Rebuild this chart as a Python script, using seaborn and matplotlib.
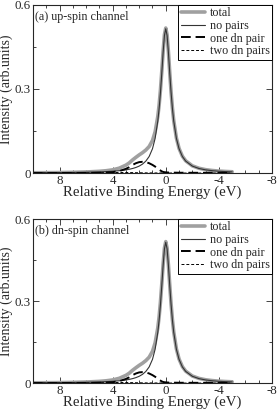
import numpy as np
import pandas as pd
import matplotlib
matplotlib.use('Agg')
import matplotlib.pyplot as plt
import seaborn as sns

# binding energy grid (eV)
energy = [10, 9, 8, 7, 6, 5, 4.5, 4, 3.5, 3, 2.75, 2.5, 2.25, 2, 1.75, 1.5, 1.25, 1,
          0.8, 0.6, 0.5, 0.4, 0.3, 0.2, 0.1, 0, -0.1, -0.2, -0.3, -0.4, -0.5, -0.6,
          -0.8, -1, -1.25, -1.5, -2, -2.5, -3, -3.5, -4, -4.5, -5]

no_pairs = [0.001, 0.0013, 0.0016, 0.0021, 0.0029, 0.0041, 0.0051, 0.0064, 0.0084, 0.0113,
            0.0134, 0.0162, 0.0198, 0.0248, 0.0319, 0.0426, 0.0591, 0.0867,
            0.1238, 0.1854, 0.2305, 0.2877, 0.3565, 0.4300, 0.4908, 0.515, 0.4908, 0.4300,
            0.3565, 0.2877, 0.2305, 0.1854, 0.1238, 0.0867, 0.0591, 0.0426, 0.0248, 0.0162,
            0.0113, 0.0084, 0.0064, 0.0051, 0.0041]

one_dn_pair = [0.0, 0.0, 0.0, 0.0, 0.0002, 0.0008, 0.0015, 0.003, 0.007, 0.015,
               0.021, 0.029, 0.035, 0.039, 0.040, 0.039, 0.035, 0.029,
               0.023, 0.016, 0.012, 0.009, 0.006, 0.004, 0.003, 0.0025, 0.002, 0.0018,
               0.0016, 0.0015, 0.0014, 0.0013, 0.0012, 0.0011, 0.001, 0.001, 0.0009, 0.0008,
               0.0007, 0.0006, 0.0005, 0.0005, 0.0004]

two_dn_pairs = [0.0, 0.0, 0.0001, 0.0003, 0.0006, 0.0012, 0.0016, 0.0019, 0.002, 0.0019,
                0.0017, 0.0015, 0.0012, 0.001, 0.0008, 0.0006, 0.0005, 0.0004,
                0.0003, 0.0003, 0.0002, 0.0002, 0.0002, 0.0002, 0.0001, 0.0001, 0.0001, 0.0001,
                0.0001, 0.0001, 0.0001, 0.0001, 0.0, 0.0, 0.0, 0.0, 0.0, 0.0,
                0.0, 0.0, 0.0, 0.0, 0.0]

total = [0.0010, 0.0013, 0.0017, 0.0024, 0.0037, 0.0061, 0.0082, 0.0113, 0.0174, 0.0282,
         0.0361, 0.0467, 0.0560, 0.0648, 0.0727, 0.0822, 0.0946, 0.1161,
         0.1471, 0.2017, 0.2427, 0.2969, 0.3627, 0.4342, 0.4939, 0.5176, 0.4929, 0.4319,
         0.3582, 0.2893, 0.2320, 0.1868, 0.1250, 0.0878, 0.0601, 0.0436, 0.0257, 0.0170,
         0.0120, 0.0090, 0.0069, 0.0056, 0.0045]

panel_labels = ['(a) up-spin channel', '(b) dn-spin channel']

df = pd.DataFrame({'energy': energy, 'total': total, 'no pairs': no_pairs,
                   'one dn pair': one_dn_pair, 'two dn pairs': two_dn_pairs})

sns.set_style('ticks')
plt.rcParams['font.family'] = ['Liberation Serif', 'DejaVu Serif']
plt.rcParams['axes.unicode_minus'] = False

fig = plt.figure(figsize=(2.77, 4.11), dpi=100)
ax_top = fig.add_axes([0.119, 0.579, 0.863, 0.409])
ax_bot = fig.add_axes([0.119, 0.068, 0.863, 0.399])

styles = {
    'total': dict(color='#a0a0a0', lw=2.6, ls='-'),
    'no pairs': dict(color='#333333', lw=0.8, ls='-'),
    'one dn pair': dict(color='black', lw=1.4, ls=(0, (5, 2.5))),
    'two dn pairs': dict(color='black', lw=0.7, ls=(0, (3, 2))),
}

for ax, lab in zip([ax_top, ax_bot], panel_labels):
    for name in ['total', 'no pairs', 'one dn pair', 'two dn pairs']:
        st = styles[name]
        sns.lineplot(data=df, x='energy', y=name, ax=ax, color=st['color'],
                     lw=st['lw'], ls=st['ls'], label=name, sort=False)
    ax.set_xlim(10, -8)
    ax.set_ylim(0, 0.6)
    ax.set_xticks([8, 4, 0, -4, -8])
    ax.set_xticklabels(['8', '4', '0', '-4', '-8'])
    ax.set_xticks([9, 7, 6, 5, 3, 2, 1, -1, -2, -3, -5, -6, -7], minor=True)
    ax.set_yticks([0, 0.3, 0.6])
    ax.set_yticklabels(['0', '0.3', '0.6'])
    ax.set_yticks([0.15, 0.45], minor=True)
    ax.tick_params(which='both', direction='in', top=True, right=True,
                   labelsize=9.3, pad=1.5, width=0.6)
    ax.tick_params(which='major', length=4)
    ax.tick_params(which='minor', length=2)
    for s in ax.spines.values():
        s.set_linewidth(0.8)
    ax.set_xlabel('Relative Binding Energy (eV)', fontsize=10.7, labelpad=-1)
    ax.set_ylabel('Intensity (arb.units)', fontsize=10)
    ax.yaxis.set_label_coords(-0.082, 0.5)
    ax.text(0.01, 0.965, lab, transform=ax.transAxes, ha='left', va='top', fontsize=8.7)
    leg = ax.legend(loc='upper right', fontsize=8.7, frameon=True, fancybox=False,
                    edgecolor='black', framealpha=1, handlelength=2.0,
                    handletextpad=0.4, labelspacing=0.05, borderpad=0.2,
                    borderaxespad=0.0)
    leg.get_frame().set_linewidth(0.7)

fig.savefig('out.png', dpi=100)
